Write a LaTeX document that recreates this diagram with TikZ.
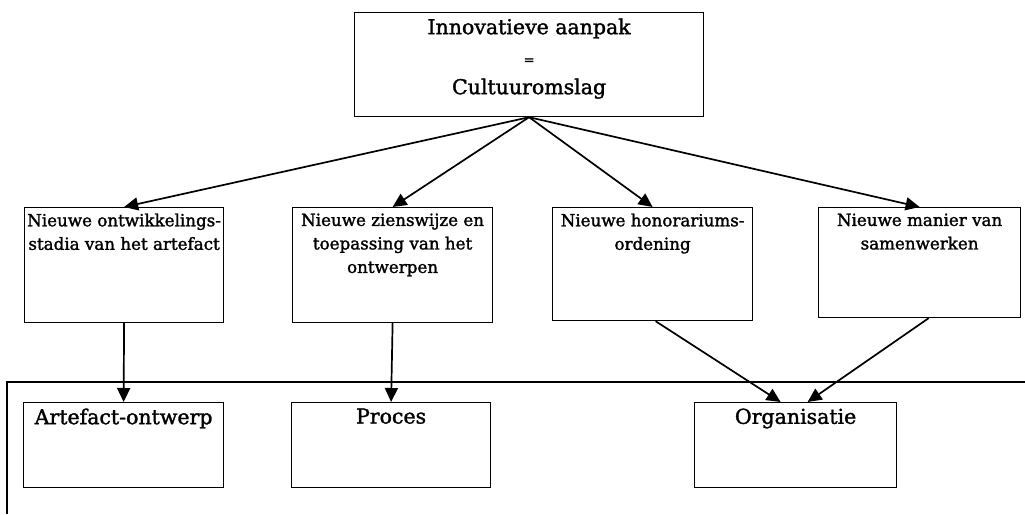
\documentclass[tikz,border=0pt]{standalone}
\usepackage{fontspec}
\setmainfont{DejaVu Serif}[FakeBold=1.6]
\usetikzlibrary{arrows.meta}
% fixed-size cell: width, height, top padding, text (centred, top aligned)
\newcommand{\boxtext}[4]{\parbox[t][#2][t]{#1}{\centering\vspace*{#3}#4}}
\begin{document}
\begin{tikzpicture}[x=1pt,y=-1pt,
  box/.style={draw, line width=1.2pt, inner sep=0pt, anchor=north west, rectangle},
  arr/.style={line width=1.7pt, -{Triangle[length=14pt,width=13pt]}},
  topfont/.style={font=\fontsize{20.5}{30}\selectfont},
  midfont/.style={font=\fontsize{16.7}{23.5}\selectfont},
  lowfont/.style={font=\fontsize{20.5}{22}\selectfont}]
\useasboundingbox (0,0) rectangle (1025,514);

% central statement
\node[box, topfont] (top) at (354,12)
  {\boxtext{349pt}{104pt}{6pt}{Innovatieve aanpak\\{\fontsize{13}{30}\selectfont =}\\Cultuuromslag}};

% four innovations
\node[box, midfont] (n1) at (24,207)
  {\boxtext{199pt}{115pt}{6pt}{Nieuwe ontwikkelings-\\stadia van het artefact}};
\node[box, midfont] (n2) at (292,207)
  {\boxtext{200pt}{115pt}{6pt}{Nieuwe zienswijze en\\toepassing van het\\ontwerpen}};
\node[box, midfont] (n3) at (552,207)
  {\boxtext{200pt}{113pt}{6pt}{Nieuwe honorariums-\\ordening}};
\node[box, midfont] (n4) at (818,207)
  {\boxtext{202pt}{110pt}{6pt}{Nieuwe manier van\\samenwerken}};

% framed lower area
\draw[line width=1.2pt] (1025,382) -- (7,382) -- (7,514);

% affected domains
\node[box, lowfont] (a) at (23,402)
  {\boxtext{200pt}{85pt}{6pt}{Artefact-ontwerp}};
\node[box, lowfont] (p) at (291,402)
  {\boxtext{199pt}{85pt}{6pt}{Proces}};
\node[box, lowfont] (o) at (694,402)
  {\boxtext{202pt}{85pt}{6pt}{Organisatie}};

% connectors
\draw[arr] (top.south) -- (n1.north);
\draw[arr] (top.south) -- (n2.north);
\draw[arr] (top.south) -- (n3.north);
\draw[arr] (top.south) -- (n4.north);
\draw[arr] (n1.south) -- (a.north);
\draw[arr] (n2.south) -- (p.north);
\draw[arr] ([xshift=3pt]n3.south) -- ([xshift=-15pt]o.north);
\draw[arr] ([xshift=9pt]n4.south) -- ([xshift=12pt]o.north);
\end{tikzpicture}
\end{document}
